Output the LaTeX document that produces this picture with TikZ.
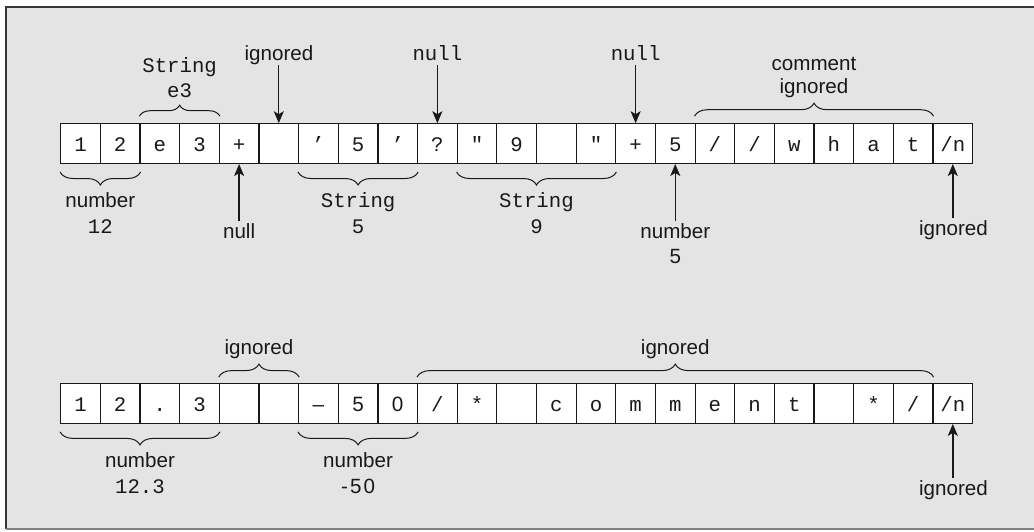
\documentclass[tikz,border=0pt]{standalone}
\usepackage{fontspec}
\setmainfont{Liberation Sans}
\newfontfamily\monof{Liberation Mono}
\usetikzlibrary{decorations.pathreplacing,arrows.meta}
\definecolor{bgc}{RGB}{228,228,228}
\definecolor{frameA}{RGB}{55,55,55}
\definecolor{frameB}{RGB}{128,128,128}
\definecolor{ink}{RGB}{25,25,25}
\newcommand{\dq}{\symbol{34}}
\begin{document}
\begin{tikzpicture}[x=1pt,y=-1pt,
  cell/.style={draw=ink, fill=white, line width=1.2pt, minimum width=39.65pt, minimum height=39.6pt,
    inner sep=0pt, text height=16pt, text depth=0pt, font=\monof\fontsize{20.7}{24}\selectfont, text=ink},
  sl/.style={font=\fontsize{20.6}{24}\selectfont, text=ink, inner sep=0pt, anchor=base, text height=15pt, text depth=5pt},
  ml/.style={sl, font=\monof\fontsize{20.7}{24}\selectfont},
  ul/.style={sl, text height=17pt},
  brc/.style={decorate, decoration={brace, amplitude=#1}, draw=ink, line width=1pt},
  arr/.style={-{Stealth[length=12pt,width=10pt,inset=3pt]}, draw=ink, line width=1.4pt},
]
\useasboundingbox (0,0) rectangle (1034,531);
\fill[bgc] (6,7) rectangle (1034,529);
\draw[frameA, line width=2pt] (6,529) -- (6,7) -- (1034,7);
\draw[frameB, line width=1.5pt] (6,529) -- (1034,529);

% top row
\foreach \c [count=\i] in {1,2,e,3,+,{},’,5,’,?,\dq,9,{},\dq,+,5,/,/,w,h,a,t,/n}
  \node[cell] (t\i) at ({60.7+(\i-0.5)*39.65},143.6) {\c};
% bottom row
\foreach \c [count=\i] in {1,2,{.},3,{},{},{\normalfont –},{\normalfont 5},{\normalfont 0},/,*,{},c,o,m,m,e,n,t,{},*,/,/n}
  \node[cell] (b\i) at ({60.7+(\i-0.5)*39.65},403.5) {\c};

% ---- top row annotations
\draw[brc=11pt] ([yshift=7pt]t3.north west) -- ([yshift=7pt]t4.north east);
\node[ml] (se3a) at (179.65,72) {String};
\node[ml] (se3b) at (179.65,97) {e3};

\node[sl] (ig1) at (279,60) {ignored};
\draw[arr] (t6.north |- ig1.south) -- (t6.north);

\node[ml] (nl1) at (437.4,60) {null};
\draw[arr] (t10.north |- nl1.south) -- (t10.north);

\node[ml] (nl2) at (635.6,60) {null};
\draw[arr] (t15.north |- nl2.south) -- (t15.north);

\draw[brc=13pt] ([yshift=7pt]t17.north west) -- ([yshift=7pt]t22.north east);
\node[sl] (cm1) at (814,70) {comment};
\node[sl] (cm2) at (814,93) {ignored};

\draw[brc=13pt] ([yshift=-8pt]t2.south east) -- ([yshift=-8pt]t1.south west);
\node[sl] (n12a) at (100.35,207) {number};
\node[ml] (n12b) at (100.35,233) {12};

\node[ul] (nl3) at (239.1,238) {null};
\draw[arr] (t5.south |- nl3.north) -- (t5.south);

\draw[brc=13pt] ([yshift=-8pt]t9.south east) -- ([yshift=-8pt]t7.south west);
\node[ml] (s5a) at (358.1,207) {String};
\node[ml] (s5b) at (358.1,233) {5};

\draw[brc=13pt] ([yshift=-8pt]t14.south east) -- ([yshift=-8pt]t11.south west);
\node[ml] (s9a) at (536.5,207) {String};
\node[ml] (s9b) at (536.5,233) {9};

\node[ul] (n5a) at (675.3,238) {number};
\node[sl] (n5b) at (675.3,263) {5};
\draw[arr] (t16.south |- n5a.north) -- (t16.south);

\node[ul] (ig2) at (953.5,235) {ignored};
\draw[arr] (t23.south |- ig2.north) -- (t23.south);

% ---- bottom row annotations
\draw[brc=13pt] ([yshift=6pt]b5.north west) -- ([yshift=6pt]b6.north east);
\node[sl] (ig3) at (259,354) {ignored};

\draw[brc=13pt] ([yshift=6pt]b10.north west) -- ([yshift=6pt]b22.north east);
\node[sl] (ig4) at (675.3,354) {ignored};

\draw[brc=13pt] ([yshift=-8pt]b4.south east) -- ([yshift=-8pt]b1.south west);
\node[sl] (n123a) at (140,467) {number};
\node[ml] (n123b) at (140,493) {12.3};

\draw[brc=13pt] ([yshift=-8pt]b9.south east) -- ([yshift=-8pt]b7.south west);
\node[sl] (n50a) at (358.1,467) {number};
\node[sl] (n50b) at (358.1,493) {-\kern2pt5\kern2pt0};

\node[ul] (ig5) at (953.5,495) {ignored};
\draw[arr] (b23.south |- ig5.north) -- (b23.south);
\end{tikzpicture}
\end{document}
